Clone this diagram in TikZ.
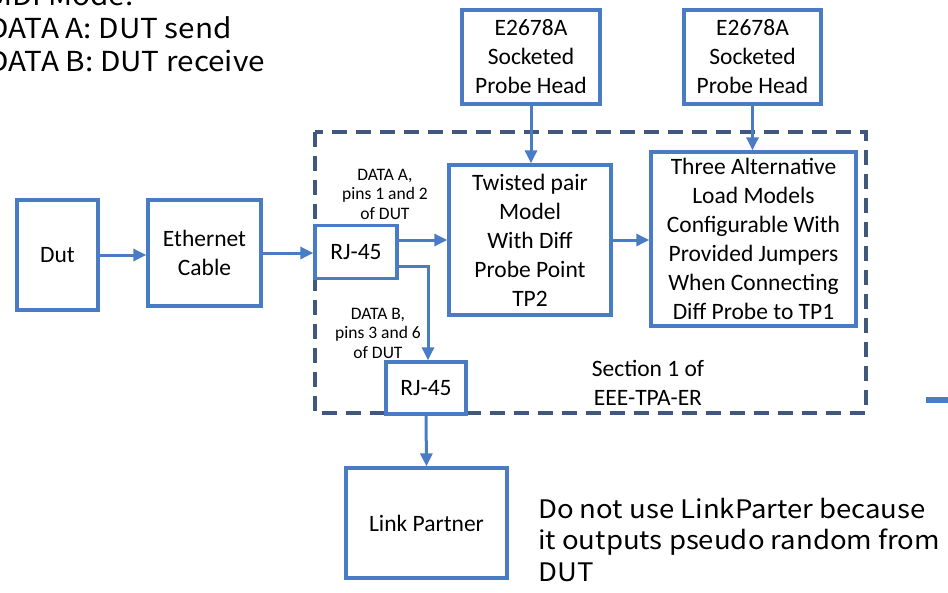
\documentclass[tikz,border=0pt]{standalone}
\usepackage{fontspec}
\setmainfont{Carlito}
\newfontfamily\notefont[FakeStretch=1.08]{Noto Sans CJK JP}
\usetikzlibrary{arrows.meta,calc}
\definecolor{boxblue}{HTML}{4A7CC6}
\definecolor{framegray}{HTML}{40587C}
\tikzset{
  blk/.style={draw=boxblue, line width=3.3pt, fill=white, align=center,
    inner sep=0pt, font=\fontsize{23.5}{29}\selectfont},
  link/.style={draw=boxblue, line width=3pt,
    -{Triangle[length=13pt,width=12pt]}},
  pinlabel/.style={align=center, inner sep=0pt, font=\fontsize{17.5}{19.5}\selectfont},
  note/.style={align=left, inner sep=0pt}
}
\begin{document}
\begin{tikzpicture}[x=1pt,y=-1pt]
\useasboundingbox (0,0) rectangle (948,592);
\clip (0,0) rectangle (948,592);

% mode notes, upper left
\node[note, anchor=north west, font=\notefont\fontsize{27.5}{33}\selectfont] (modes) at (-12,-17)
  {MDI Mode:\\DATA A: DUT send\\DATA B: DUT receive};

% section frame
\draw[framegray, line width=3.2pt, dash pattern=on 15pt off 9pt]
  (315,132) rectangle (866,413);

% blocks
\node[blk, minimum width=81pt, minimum height=110pt] (dut) at (57.5,255) {Dut};
\node[blk, minimum width=113pt, minimum height=106pt] (eth) at (204.5,253) {Ethernet\\Cable};
\node[blk, minimum width=82pt, minimum height=53pt] (rja) at (356,252) {RJ-45};
\node[blk, minimum width=162pt, minimum height=150pt] (tp) at (530,240)
  {Twisted pair\\Model\\With Diff\\Probe Point\\TP2};
\node[blk, minimum width=205pt, minimum height=174pt] (load) at (753.5,239)
  {Three Alternative\\Load Models\\Configurable With\\Provided Jumpers\\When Connecting\\Diff Probe to TP1};
\node[blk, minimum width=138pt, minimum height=94pt] (proA) at (531,57)
  {E2678A\\Socketed\\Probe Head};
\node[blk, minimum width=137pt, minimum height=94pt] (proB) at (752.5,57)
  {E2678A\\Socketed\\Probe Head};
\node[blk, minimum width=80pt, minimum height=52pt] (rjb) at (426,388) {RJ-45};
\node[blk, minimum width=161pt, minimum height=110pt] (lp) at (426.5,523) {Link Partner};

% pin labels
\node[pinlabel] (labA) at (385,194) {DATA A,\\pins 1 and 2\\of DUT};
\node[pinlabel] (labB) at (378,333) {DATA B,\\pins 3 and 6\\of DUT};

% section caption
\node[align=center, inner sep=0pt, font=\fontsize{23.5}{29}\selectfont] (sec) at (648,383)
  {Section 1 of\\EEE-TPA-ER};

% remark
\node[note, anchor=north west, font=\notefont\fontsize{25.5}{31.5}\selectfont] (remark) at (538,497.5)
  {Do not use LinkParter because\\it outputs pseudo random from\\DUT};

% connectors
\draw[link] (dut.east) -- (dut.east -| eth.west);
\draw[link] (eth.east) -- (eth.east -| rja.west);
\draw[link] ([yshift=12pt]rja.east) -- ([yshift=12pt]rja.east -| tp.west);
\draw[link] ([yshift=-14pt]rja.east) -| ([xshift=2pt]rjb.north);
\draw[link] (tp.east) -- (tp.east -| load.west);
\draw[link] (proA.south) -- (proA.south |- tp.north);
\draw[link] (proB.south) -- (proB.south |- load.north);
\draw[link] (rjb.south) -- (lp.north);

% stub at the right edge
\coordinate (stubL) at (926,399.5);
\coordinate (stubR) at (950,399.5);
\draw[boxblue, line width=6pt] (stubL) -- (stubR);
\end{tikzpicture}
\end{document}
